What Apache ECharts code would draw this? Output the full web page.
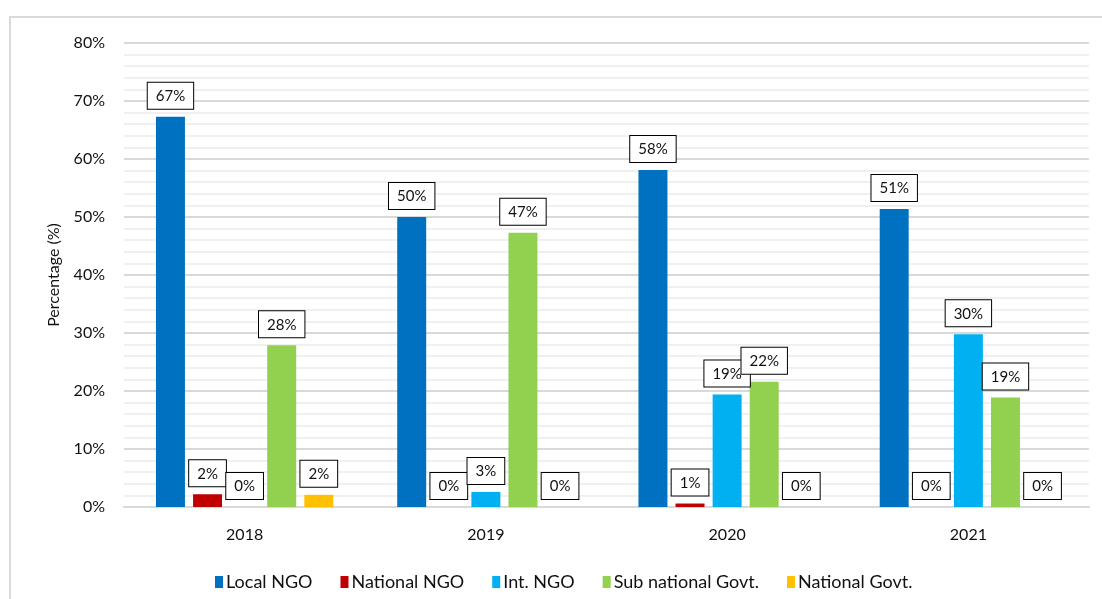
<!DOCTYPE html>
<html>
<head>
<meta charset="utf-8">
<script src="https://cdn.jsdelivr.net/npm/echarts@6/dist/echarts.min.js"></script>
<style>
html,body{margin:0;padding:0;background:#fff;}
#chart{width:1102px;height:599px;}
</style>
</head>
<body>
<div id="chart"></div>
<script>
const categories = ['2018', '2019', '2020', '2021'];
const seriesNames = ['Local NGO', 'National NGO', 'Int. NGO', 'Sub national Govt.', 'National Govt.'];
const localNGO = [67.3, 50.0, 58.1, 51.4];
const nationalNGO = [2.2, 0, 0.6, 0];
const intNGO = [0, 2.6, 19.4, 29.8];
const subNationalGovt = [27.9, 47.3, 21.6, 18.9];
const nationalGovt = [2.1, 0, 0, 0];
const yTicks = [0, 10, 20, 30, 40, 50, 60, 70, 80];

const colors = ['#0070C0', '#C00000', '#00B0F0', '#92D050', '#FFC000'];
const allData = [localNGO, nationalNGO, intNGO, subNationalGovt, nationalGovt];
const FONT = 'Lato';

const chart = echarts.init(document.getElementById('chart'));
chart.setOption({
  animation: false,
  textStyle: { fontFamily: FONT },
  graphic: [{
    type: 'rect',
    shape: { x: 10, y: 17, width: 1200, height: 700 },
    style: { fill: 'none', stroke: '#d9d9d9', lineWidth: 2 },
    silent: true
  }],
  grid: { left: 124, right: 13, top: 43, bottom: 92 },
  legend: {
    data: seriesNames,
    left: 210,
    top: 568,
    itemWidth: 8,
    itemHeight: 12,
    itemGap: 28,
    icon: 'rect',
    textStyle: { fontFamily: FONT, fontSize: 18, color: '#111', padding: [0, 0, 0, -2] }
  },
  xAxis: {
    type: 'category',
    data: categories,
    axisLine: { lineStyle: { color: '#d9d9d9', width: 2 } },
    axisTick: { show: false },
    axisLabel: { fontFamily: FONT, fontSize: 16, color: '#111', margin: 20 }
  },
  yAxis: {
    type: 'value',
    min: yTicks[0],
    max: yTicks[yTicks.length - 1],
    interval: 10,
    name: 'Percentage (%)',
    nameLocation: 'middle',
    nameGap: 62,
    nameTextStyle: { fontFamily: FONT, fontSize: 16, color: '#111' },
    axisLine: { show: false },
    axisTick: { show: false },
    axisLabel: { fontFamily: FONT, fontSize: 16, color: '#111', margin: 19, formatter: v => v + '%' },
    splitLine: { lineStyle: { color: '#d9d9d9', width: 2 } },
    minorTick: { show: false, splitNumber: 5 },
    minorSplitLine: { show: true, lineStyle: { color: '#f0f0f0', width: 2 } }
  },
  series: seriesNames.map((name, i) => ({
    name: name,
    type: 'bar',
    data: allData[i],
    barGap: '28%',
    barCategoryGap: '26.5%',
    itemStyle: { color: colors[i] },
    label: {
      show: true,
      position: 'top',
      distance: 8,
      formatter: p => Math.round(p.value) + '%',
      fontFamily: FONT,
      fontSize: 15,
      color: '#111',
      backgroundColor: '#fff',
      borderColor: '#000',
      borderWidth: 1,
      padding: [6, 8, 5, 8]
    }
  }))
});
</script>
</body>
</html>
